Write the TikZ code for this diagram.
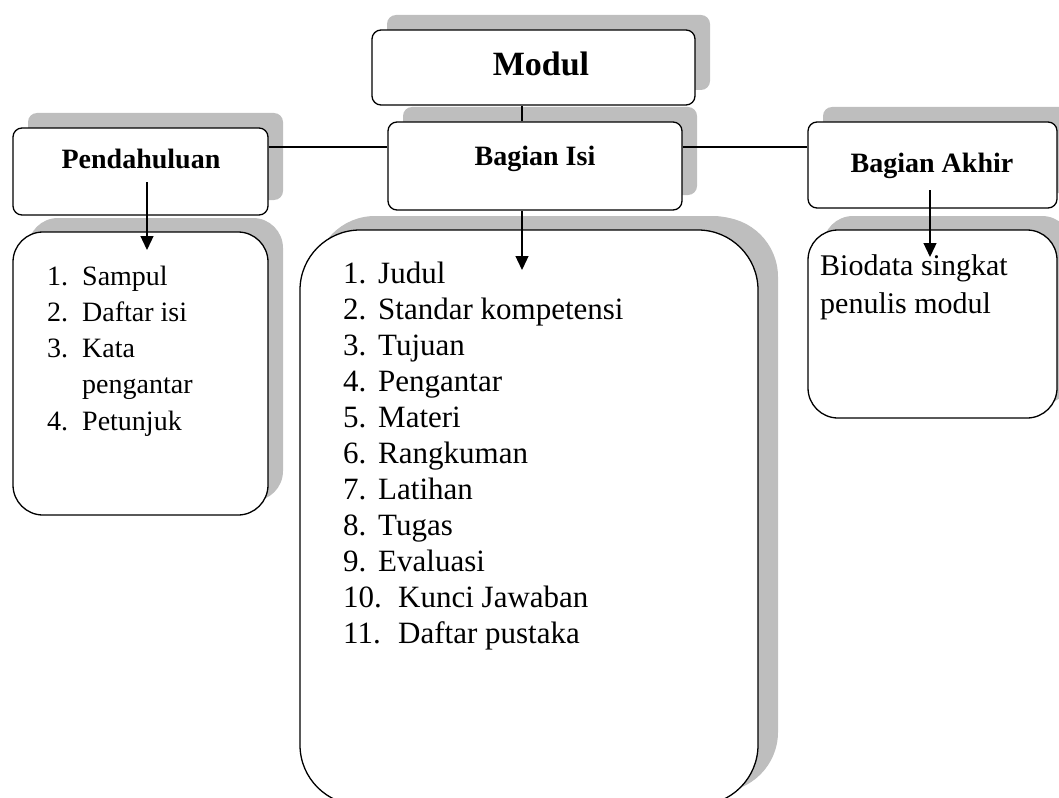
\documentclass[tikz,border=0pt]{standalone}
\usepackage{fontspec}
\setmainfont{Liberation Serif}
\usetikzlibrary{arrows.meta,shadows}
\definecolor{shade}{RGB}{190,190,190}
\tikzset{
  basebox/.style={draw=black, line width=1.3pt, fill=white, inner sep=0pt},
  headbox/.style={basebox, rounded corners=9pt,
    general shadow={shadow xshift=15pt, shadow yshift=15pt, fill=shade}},
  listbox/.style={basebox,
    general shadow={shadow xshift=15pt, shadow yshift=14pt, fill=shade}},
  headtxt/.style={anchor=base, inner sep=0pt, font=\bfseries\fontsize{28}{33}\selectfont},
  itemM/.style={anchor=base west, inner sep=0pt, font=\fontsize{31}{36}\selectfont},
  itemL/.style={anchor=base west, inner sep=0pt, font=\fontsize{28}{33}\selectfont},
  itemR/.style={anchor=base west, inner sep=0pt, font=\fontsize{30}{38}\selectfont},
  conn/.style={draw=black, line width=1.3pt},
  arr/.style={conn, -{Triangle[length=14pt,width=13pt]}}
}
\begin{document}
\begin{tikzpicture}[x=1pt,y=-1pt]
\useasboundingbox (0,0) rectangle (1059,797);
\begin{scope}
\clip (0,0) rectangle (1059,797);
% list boxes
\node[listbox, rounded corners=60pt, minimum width=458pt, minimum height=575pt,
  general shadow={shadow xshift=20pt, shadow yshift=13pt, fill=shade}] (listM) at (529,517.5) {};
\node[listbox, rounded corners=30pt, minimum width=255pt, minimum height=283pt] (listL) at (140.5,373.5) {};
\node[listbox, rounded corners=30pt, minimum width=249pt, minimum height=188pt] (listR) at (932.5,324) {};
% heading boxes
\node[headbox, minimum width=255pt, minimum height=87pt] (pend) at (140.5,171.5) {};
\node[headbox, minimum width=249pt, minimum height=86pt] (akhir) at (932.5,165) {};
\node[headbox, minimum width=294pt, minimum height=88pt] (isi) at (535,166) {};
\node[headbox, minimum width=323pt, minimum height=75pt] (modul) at (533.5,67.5) {};
% heading texts
\node[headtxt, font=\bfseries\fontsize{34}{40}\selectfont] (tmodul) at (541,76) {Modul};
\node[headtxt] (tisi) at (535,165) {Bagian Isi};
\node[headtxt] (tpend) at (141,168) {Pendahuluan};
\node[headtxt] (takhir) at (932,172) {Bagian Akhir};
% connectors
\coordinate (mx) at (522,0);
\coordinate (hy) at (0,147);
\draw[conn] (modul.south -| mx) -- (isi.north -| mx);
\draw[conn] (pend.east |- hy) -- (isi.west |- hy);
\draw[conn] (isi.east |- hy) -- (akhir.west |- hy);
\coordinate (pa) at (147,182);
\coordinate (pb) at (147,250);
\coordinate (mb) at (522,270);
\coordinate (ra) at (930,190);
\coordinate (rb) at (930,257);
\draw[arr] (pa) -- (pb);
\draw[arr] (isi.south -| mx) -- (mb);
\draw[arr] (ra) -- (rb);
% left list
\node[itemL] (l1) at (47,285) {\makebox[35pt][l]{1.}Sampul};
\node[itemL] (l2) at (47,321) {\makebox[35pt][l]{2.}Daftar isi};
\node[itemL] (l3) at (47,357.5) {\makebox[35pt][l]{3.}Kata};
\node[itemL] (l3b) at (82,393.5) {pengantar};
\node[itemL] (l4) at (47,430) {\makebox[35pt][l]{4.}Petunjuk};
% main list
\node[itemM] (m1) at (343,283) {\makebox[35pt][l]{1.}Judul};
\node[itemM] (m2) at (343,319) {\makebox[35pt][l]{2.}Standar kompetensi};
\node[itemM] (m3) at (343,355) {\makebox[35pt][l]{3.}Tujuan};
\node[itemM] (m4) at (343,391) {\makebox[35pt][l]{4.}Pengantar};
\node[itemM] (m5) at (343,427) {\makebox[35pt][l]{5.}Materi};
\node[itemM] (m6) at (343,463) {\makebox[35pt][l]{6.}Rangkuman};
\node[itemM] (m7) at (343,499) {\makebox[35pt][l]{7.}Latihan};
\node[itemM] (m8) at (343,535) {\makebox[35pt][l]{8.}Tugas};
\node[itemM] (m9) at (343,571) {\makebox[35pt][l]{9.}Evaluasi};
\node[itemM] (m10) at (343,607) {\makebox[55pt][l]{10.}Kunci Jawaban};
\node[itemM] (m11) at (343,643) {\makebox[55pt][l]{11.}Daftar pustaka};
% right list
\node[itemR] (r1) at (820,275) {Biodata singkat};
\node[itemR] (r2) at (820,313) {penulis modul};
\end{scope}
\end{tikzpicture}
\end{document}
